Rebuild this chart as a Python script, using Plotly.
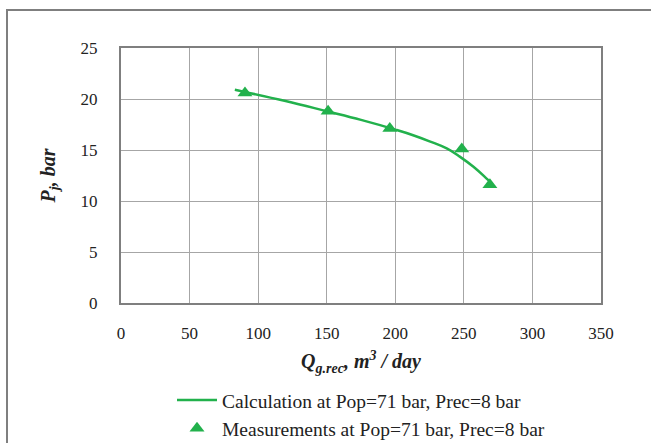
import plotly.graph_objects as go

# Data
calc_x = [83, 90, 120, 150, 175, 200, 213, 225, 237.5, 247, 257, 266.6, 269]
calc_y = [20.9, 20.7, 19.8, 18.8, 17.95, 17.0, 16.45, 15.85, 15.15, 14.35, 13.35, 12.2, 11.9]
meas_x = [90.4, 151, 196, 248.5, 269]
meas_y = [20.6, 18.8, 17.1, 15.1, 11.6]

x_ticks = [0, 50, 100, 150, 200, 250, 300, 350]
y_ticks = [0, 5, 10, 15, 20, 25]

GREEN = "#22b14c"
SERIF = "Liberation Serif, DejaVu Serif, serif"

fig = go.Figure()
fig.add_trace(go.Scatter(
    x=calc_x, y=calc_y, mode="lines",
    line=dict(color=GREEN, width=2.5, shape="spline", smoothing=1.2),
    name="Calculation at Pop=71 bar, Prec=8 bar"))
fig.add_trace(go.Scatter(
    x=meas_x, y=meas_y, mode="markers",
    marker=dict(symbol="triangle-up", size=13, color=GREEN),
    name="Measurements at Pop=71 bar, Prec=8 bar"))

L, R, T, B = 121, 50, 48, 140
W, H = 651, 443
pw, ph = W - L - R, H - T - B

fig.update_layout(
    width=W, height=H,
    margin=dict(l=L, r=R, t=T, b=B, autoexpand=False),
    paper_bgcolor="white", plot_bgcolor="white",
    font=dict(family=SERIF, size=17, color="#222222"),
    showlegend=True,
    legend=dict(x=0.5, xanchor="center", y=-0.305, yanchor="top",
                font=dict(family=SERIF, size=19.5, color="#222222"),
                bgcolor="rgba(0,0,0,0)", tracegroupgap=0, itemwidth=40),
    xaxis=dict(range=[0, 350], tickvals=x_ticks, showgrid=True, gridcolor="#a6a6a6", gridwidth=1,
               showline=True, linecolor="#7f7f7f", linewidth=2, mirror=True, zeroline=False,
               ticks="", ticklabelstandoff=14,
               title=dict(text="<b><i>Q<sub>g.rec</sub>, m<sup>3</sup> / day</i></b>",
                          font=dict(family=SERIF, size=20), standoff=12)),
    yaxis=dict(range=[0, 25], tickvals=y_ticks, showgrid=True, gridcolor="#a6a6a6", gridwidth=1,
               showline=True, linecolor="#7f7f7f", linewidth=2, mirror=True, zeroline=False,
               ticks="", ticklabelstandoff=18,
               title=dict(text="<b><i>P<sub>j</sub>, bar</i></b>",
                          font=dict(family=SERIF, size=20), standoff=20)),
)

# outer frame of the figure
fig.add_shape(type="rect", xref="paper", yref="paper",
              x0=(7 - L) / pw, x1=(W + 10 - L) / pw,
              y0=-(H + 10 - T - ph) / ph, y1=(ph + T - 10) / ph,
              line=dict(color="#7f7f7f", width=2), fillcolor="rgba(0,0,0,0)", layer="below")

fig.write_html("out.html")
